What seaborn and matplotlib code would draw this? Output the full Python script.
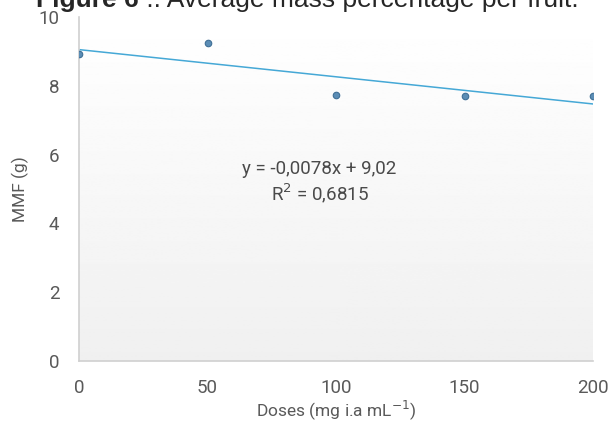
import numpy as np
import pandas as pd
import matplotlib
matplotlib.use("Agg")
import matplotlib.pyplot as plt
import seaborn as sns

# === Data ===
doses = [0, 50, 100, 150, 200]
mmf = [8.92, 9.24, 7.73, 7.71, 7.71]
x_ticks = [0, 50, 100, 150, 200]
y_ticks = [0, 2, 4, 6, 8, 10]
equation = "y = -0,0078x + 9,02"
r2_text = "R$^2$ = 0,6815"

df = pd.DataFrame({"dose": doses, "mmf": mmf})

# === Style ===
sns.set_style("white")
plt.rcParams["font.family"] = ["Roboto", "DejaVu Sans"]
tick_col = "#595959"

fig = plt.figure(figsize=(6.11, 4.21), dpi=100)
ax = fig.add_axes([79 / 611, 1 - 361 / 421, (593 - 79) / 611, (361 - 17) / 421])

# plot area gradient (white top -> light grey bottom)
grad = np.linspace(1.0, 0.94, 256).reshape(-1, 1)
ax.imshow(grad, cmap="gray", vmin=0, vmax=1, aspect="auto",
          extent=[0, 1, 0, 1], transform=ax.transAxes, zorder=0)

sns.regplot(data=df, x="dose", y="mmf", ci=None, ax=ax,
            scatter_kws=dict(s=22, color="#5b8db5", edgecolor="#3f6f96",
                             linewidths=0.8, zorder=3, alpha=1),
            line_kws=dict(color="#45a8d6", lw=1.1, zorder=2))

ax.set_xlim(0, 200)
ax.set_ylim(0, 10)
ax.set_xticks(x_ticks)
ax.set_yticks(y_ticks)
ax.tick_params(axis="both", length=0, labelsize=13.5, colors=tick_col)
ax.tick_params(axis="x", pad=13)
ax.tick_params(axis="y", pad=14)
for s in ["top", "right"]:
    ax.spines[s].set_visible(False)
for s in ["left", "bottom"]:
    ax.spines[s].set_color("#d0d0d0")
    ax.spines[s].set_linewidth(1.2)

ax.set_xlabel("")
ax.set_ylabel("MMF (g)", fontsize=12.5, color=tick_col)
ax.yaxis.set_label_coords(-0.097, 0.5)
fig.text(336 / 611, 1 - 416 / 421, "Doses (mg i.a mL$^{-1}$)", fontsize=12.5,
         color=tick_col, ha="center", va="baseline")

ax.text(0.468, 0.558, equation, transform=ax.transAxes, ha="center",
        va="center", fontsize=13.5, color="#4a4a4a")
ax.text(0.468, 0.488, r2_text, transform=ax.transAxes, ha="center",
        va="center", fontsize=13.5, color="#4a4a4a")

# title, clipped at the top edge
base_y = 1 - 6.5 / 421
t1 = fig.text(36 / 611, base_y, "Figure 6", fontsize=19,
              fontweight="bold", family="Liberation Sans", va="baseline")
fig.canvas.draw()
bb = t1.get_window_extent()
fig.text(bb.x1 / fig.bbox.width, base_y, " .: Average mass percentage per fruit.",
         fontsize=19, family="Liberation Sans", va="baseline")

fig.savefig("out.png", dpi=100)
